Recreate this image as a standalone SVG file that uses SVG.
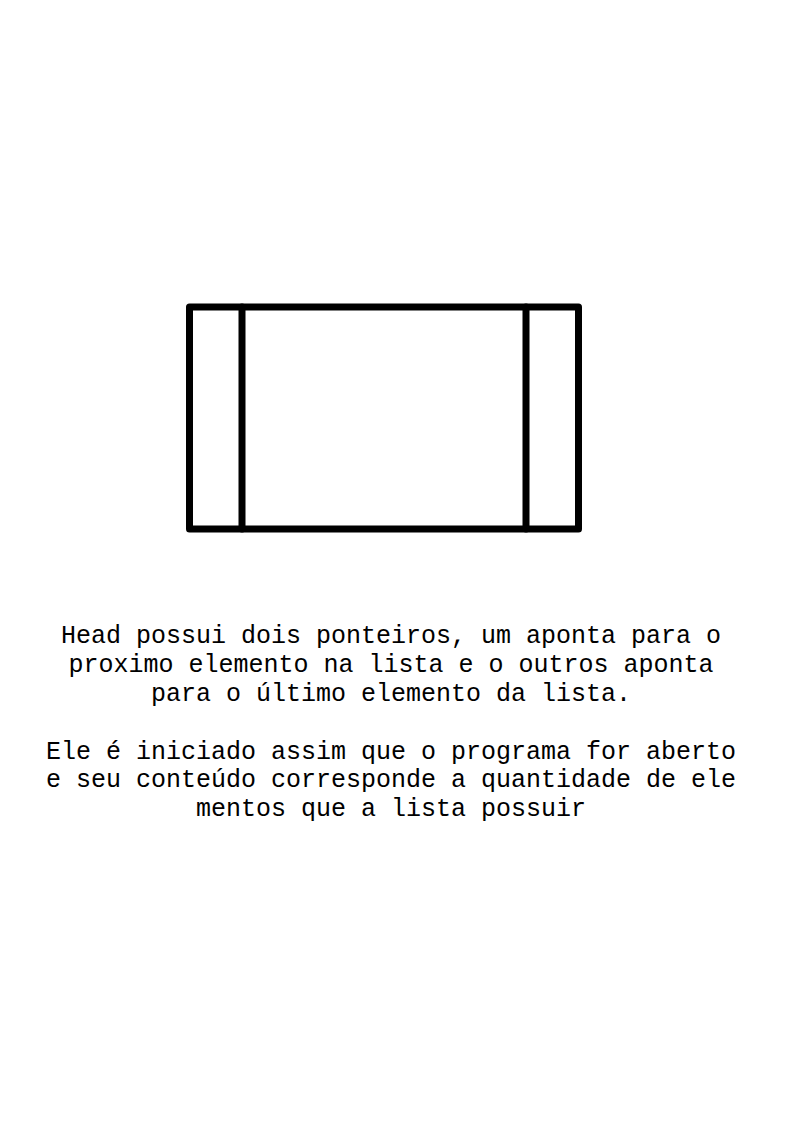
<svg xmlns="http://www.w3.org/2000/svg" width="794" height="1123" viewBox="0 0 794 1123">
<style>
.box{fill:none;stroke:#000;stroke-width:7;stroke-linejoin:round;stroke-linecap:round}
.t{font-family:"Liberation Mono","DejaVu Sans Mono",monospace;font-size:25px;fill:#000;text-anchor:middle}
</style>
<rect width="794" height="1123" fill="#fff"/>
<g id="head">
<rect class="box" x="189.5" y="307" width="389" height="222"/>
<line class="box" x1="242" y1="307" x2="242" y2="529"/>
<line class="box" x1="526" y1="307" x2="526" y2="529"/>
</g>
<g id="connectors"></g>
<g id="caption">
<text class="t" x="391" y="643">Head possui dois ponteiros, um aponta para o</text>
<text class="t" x="391" y="672">proximo elemento na lista e o outros aponta</text>
<text class="t" x="391" y="700.5">para o último elemento da lista.</text>
<text class="t" x="391" y="758.5">Ele é iniciado assim que o programa for aberto</text>
<text class="t" x="391" y="787">e seu conteúdo corresponde a quantidade de ele</text>
<text class="t" x="391" y="816">mentos que a lista possuir</text>
</g>
</svg>
